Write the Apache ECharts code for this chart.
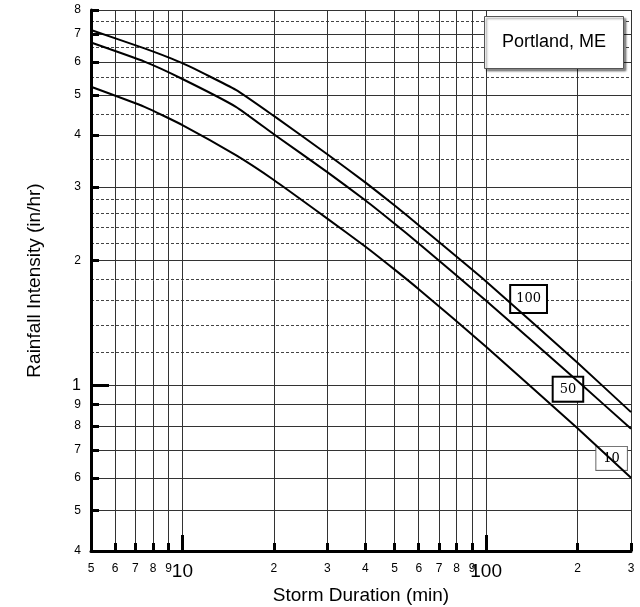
<!DOCTYPE html>
<html>
<head>
<meta charset="utf-8">
<script src="https://cdn.jsdelivr.net/npm/echarts@6.0.0/dist/echarts.min.js"></script>
<style>
  html, body { margin: 0; padding: 0; background: #fff; }
  #main { width: 640px; height: 607px; }
</style>
</head>
<body>
<div id="main"></div>
<script>
// storm durations (min) and intensities (in/hr)
var durations = [5, 7.5, 10, 15, 20, 30, 40, 50, 60, 100, 200, 300];
var yr100 = [7.16, 6.47, 5.96, 5.14, 4.45, 3.60, 3.08, 2.71, 2.43, 1.78, 1.134, 0.863];
var yr50  = [6.68, 6.01, 5.46, 4.68, 4.02, 3.26, 2.79, 2.45, 2.196, 1.60, 1.025, 0.787];
var yr10  = [5.23, 4.68, 4.23, 3.58, 3.12, 2.52, 2.16, 1.90, 1.705, 1.24, 0.789, 0.60];

// where the return period boxes sit [duration, intensity]
var tag100 = [138, 1.615];
var tag50 = [186, 0.98];
var tag10 = [259, 0.668];

// grid / tick values
var xTicks = [5, 6, 7, 8, 9, 10, 20, 30, 40, 50, 60, 70, 80, 90, 100, 200, 300];
var xMajor = [10, 100];
var yTicks = [0.4, 0.5, 0.6, 0.7, 0.8, 0.9, 1, 2, 3, 4, 5, 6, 7, 8];
var yDashed = [1.2, 1.4, 1.6, 1.8, 2.2, 2.4, 2.6, 2.8, 3.5, 4.5, 5.5, 6.5, 7.5];
var yMajor = [1];

function pairs(ys) {
    var out = [];
    for (var i = 0; i < durations.length; i++) out.push([durations[i], ys[i]]);
    return out;
}

var chart = echarts.init(document.getElementById('main'));

function tagLabel(text, bw, bc, pad) {
    return {
        show: true,
        position: 'inside',
        formatter: text,
        color: '#000',
        fontFamily: 'DejaVu Serif',
        fontSize: 13,
        lineHeight: 14,
        backgroundColor: '#fff',
        borderColor: bc,
        borderWidth: bw,
        padding: pad
    };
}

function curve(name, ys, tag, lbl) {
    return {
        name: name,
        type: 'line',
        xAxisIndex: 0,
        yAxisIndex: 0,
        smooth: 0.15,
        symbol: 'none',
        lineStyle: { color: '#000', width: 2 },
        data: pairs(ys),
        markPoint: {
            symbol: 'rect',
            symbolSize: 1,
            itemStyle: { color: 'rgba(0,0,0,0)' },
            label: lbl,
            data: [{ coord: tag }]
        },
        z: 5
    };
}

var option = {
    animation: false,
    backgroundColor: '#fff',
    title: {
        text: 'Portland, ME',
        left: 484,
        top: 16,
        padding: [16, 18, 16, 18],
        backgroundColor: '#fff',
        borderColor: '#555',
        borderWidth: 1,
        shadowColor: 'rgba(0,0,0,0.45)',
        shadowOffsetX: 2,
        shadowOffsetY: 2,
        shadowBlur: 2,
        textStyle: {
            fontFamily: 'Liberation Sans',
            fontWeight: 'normal',
            fontSize: 18,
            lineHeight: 21,
            color: '#000'
        },
        z: 10
    },
    grid: { left: 91, right: 9, top: 10, bottom: 56, containLabel: false, outerBoundsMode: 'none' },
    xAxis: [
        {
            type: 'log',
            min: 5,
            max: 300,
            name: 'Storm Duration (min)',
            nameLocation: 'middle',
            nameGap: 34,
            nameTextStyle: { fontFamily: 'Liberation Sans', fontSize: 19, color: '#000' },
            axisLine: { show: true, onZero: false, lineStyle: { color: '#000', width: 3 } },
            axisTick: { show: true, inside: true, length: 8, customValues: xTicks, lineStyle: { color: '#000', width: 3 } },
            splitLine: { show: true, lineStyle: { color: '#333', width: 1 } },
            axisLabel: {
                show: true,
                margin: 12,
                customValues: xTicks,
                fontFamily: 'Liberation Sans',
                color: '#000',
                verticalAlign: 'top',
                formatter: function (v) {
                    if (Math.abs(v - 10) < 1e-6 || Math.abs(v - 100) < 1e-6) return '{big|' + Math.round(v) + '}';
                    var d = v < 10 ? v : (v < 100 ? v / 10 : v / 100);
                    return '{sm|' + Math.round(d) + '}';
                },
                rich: {
                    sm: { fontSize: 12, fontFamily: 'Liberation Sans', color: '#000', lineHeight: 12 },
                    big: { fontSize: 19, fontFamily: 'Liberation Sans', color: '#000', lineHeight: 17 }
                }
            }
        },
        {
            type: 'log',
            min: 5,
            max: 300,
            position: 'bottom',
            axisLine: { show: false },
            axisTick: { show: true, inside: true, length: 16, customValues: xMajor, lineStyle: { color: '#000', width: 3 } },
            splitLine: { show: false },
            axisLabel: { show: false }
        }
    ],
    yAxis: [
        {
            type: 'log',
            min: 0.4,
            max: 8,
            name: 'Rainfall Intensity (in/hr)',
            nameLocation: 'middle',
            nameGap: 47,
            nameTextStyle: { fontFamily: 'Liberation Sans', fontSize: 19, color: '#000' },
            axisLine: { show: true, onZero: false, lineStyle: { color: '#000', width: 3 } },
            axisTick: { show: true, inside: true, length: 8, customValues: yTicks, lineStyle: { color: '#000', width: 3 } },
            splitLine: { show: true, lineStyle: { color: '#333', width: 1 } },
            axisLabel: {
                show: true,
                margin: 10,
                customValues: yTicks,
                formatter: function (v) {
                    if (Math.abs(v - 1) < 1e-6) return '{big|1}';
                    var d = v < 1 ? v * 10 : v;
                    return '{sm|' + Math.round(d) + '}';
                },
                rich: {
                    sm: { fontSize: 12, fontFamily: 'Liberation Sans', color: '#000' },
                    big: { fontSize: 16, fontFamily: 'Liberation Sans', color: '#000' }
                }
            }
        },
        {
            type: 'log',
            min: 0.4,
            max: 8,
            position: 'left',
            axisLine: { show: false },
            axisTick: { show: false, customValues: yDashed },
            splitLine: { show: true, lineStyle: { color: '#444', width: 1, type: [3, 2] } },
            axisLabel: { show: false, customValues: yDashed }
        },
        {
            type: 'log',
            min: 0.4,
            max: 8,
            position: 'left',
            axisLine: { show: false },
            axisTick: { show: true, inside: true, length: 18, customValues: yMajor, lineStyle: { color: '#000', width: 3 } },
            splitLine: { show: false },
            axisLabel: { show: false, customValues: yMajor }
        }
    ],
    series: [
        curve('100', yr100, tag100, tagLabel('100', 2, '#000', [7, 5, 5, 5])),
        curve('50', yr50, tag50, tagLabel('50', 2, '#000', [5, 6, 4, 6])),
        curve('10', yr10, tag10, tagLabel('10', 1, '#666', [5, 7, 4, 7]))
    ]
};

chart.setOption(option);
</script>
</body>
</html>
